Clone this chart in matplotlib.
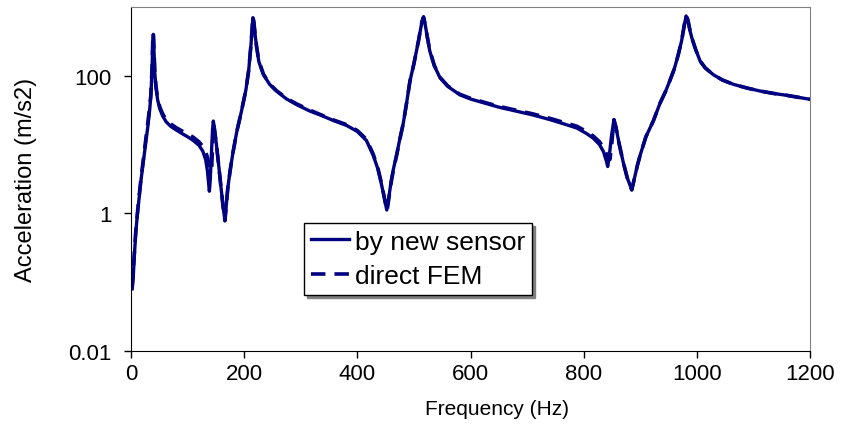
import numpy as np
import matplotlib
matplotlib.use("Agg")
import matplotlib.pyplot as plt

plt.rcParams['font.family'] = ['Liberation Sans', 'DejaVu Sans']

# frequency response (Hz, m/s2)
sensor_f = [2, 4, 6, 9, 12, 15, 18, 21, 24, 27, 30, 33, 35, 37, 38.5, 39.5, 40.5, 42, 44, 47,
            51, 56, 62, 70, 80, 90, 100, 110, 120, 127, 132, 135, 137, 138.5, 140, 142, 144,
            145.5, 147, 151, 155, 159, 163, 166, 168, 171, 175, 180, 187, 195, 203, 208, 212,
            215.5, 217, 219, 222, 226, 234, 245, 257, 275, 293, 315, 334, 360, 381, 400, 416,
            428, 436, 442, 447, 452, 456, 460, 464, 470, 475, 481, 487, 493, 500, 508, 514,
            517, 520, 524, 528, 536, 546, 560, 581, 600, 623, 650, 682, 710, 741, 765, 788,
            805, 817, 828, 835, 840, 842.5, 845, 849, 853.5, 857, 863, 870, 877, 885, 890,
            895, 900, 910, 923, 935, 945, 953, 960, 967, 973, 978, 981, 984, 988, 991, 998,
            1006, 1015, 1029, 1045, 1065, 1090, 1112, 1135, 1159, 1180, 1200]
sensor_a = [0.08, 0.12, 0.25, 0.6, 1.1, 1.9, 3.2, 5, 8, 12.5, 19, 32, 50, 110, 300, 400, 250,
            110, 70, 45, 33, 26, 21.5, 18.5, 16.3, 14.5, 13, 11.5, 9.8, 8, 6, 4.2, 2.8, 2.1,
            3, 7, 16, 22, 18, 10, 5, 2.4, 1.2, 0.8, 1.2, 2.3, 4.1, 7.5, 15.5, 30, 62, 120,
            280, 700, 600, 420, 260, 160, 104, 75, 60, 46, 38, 31, 27, 22, 19, 15.5, 11.5, 7,
            4.5, 2.8, 1.8, 1.12, 1.8, 3, 4.5, 7.5, 12, 20, 40, 84, 150, 320, 600, 700, 550,
            350, 230, 140, 94, 70, 53, 46, 40.5, 35, 30.5, 27, 23, 20, 17.4, 14.5, 12.4, 10,
            7.9, 5.8, 4.8, 6.5, 13, 23, 18, 10, 5.5, 3.3, 2.2, 3.3, 5, 7.1, 13, 22, 40, 60,
            88, 125, 200, 320, 550, 740, 650, 450, 360, 240, 163, 130, 104, 87, 75, 66, 60,
            55.5, 52, 48.5, 45.5]

fem_f = [2, 3, 5, 8, 11, 14, 17, 20, 23, 26, 29, 32, 35, 37, 38.5, 39.5, 40.5, 42, 44, 47,
         51, 56, 62, 70, 80, 90, 100, 110, 120, 128, 134, 138, 140.5, 142.5, 144, 145.5, 147,
         151, 155, 159, 163, 166, 168, 171, 175, 180, 187, 195, 203, 208, 212, 215.5, 217,
         219, 222, 226, 234, 245, 257, 275, 293, 315, 334, 360, 381, 400, 416, 428, 436, 442,
         447, 452.5, 456, 460, 464, 470, 475, 481, 487, 493, 500, 508, 514, 517, 520, 524,
         528, 536, 546, 560, 581, 600, 623, 650, 682, 710, 741, 765, 788, 805, 817, 828, 836,
         842, 846.5, 849.5, 853.5, 857, 863, 870, 877, 885, 890, 895, 900, 910, 923, 935, 945,
         953, 960, 967, 973, 978, 981, 984, 988, 991, 998, 1006, 1015, 1029, 1045, 1065, 1090,
         1112, 1135, 1159, 1180, 1200]
fem_a = [0.08, 0.11, 0.2, 0.5, 0.95, 1.7, 2.9, 4.6, 7.4, 11.5, 18, 30, 52, 120, 330, 420, 260,
         115, 72, 47, 35, 28, 23, 20, 17.6, 15.8, 14.3, 12.8, 11, 9.2, 7, 5.2, 4.1, 4.3, 9,
         21, 18, 10, 5, 2.4, 1.2, 0.78, 1.2, 2.3, 4.1, 7.5, 15.5, 30, 62, 120, 280, 720, 620,
         430, 265, 165, 106, 76, 61, 47, 39, 32, 27.5, 22.5, 19.5, 16, 12, 7.3, 4.7, 2.9,
         1.8, 1.08, 1.7, 2.9, 4.4, 7.3, 11.8, 20, 40, 84, 150, 320, 610, 720, 560, 355, 235,
         142, 95, 71, 54, 47, 41.5, 36, 31.5, 28, 24, 21, 18.5, 15.5, 13.3, 11, 8.8, 6.8, 6.1,
         10, 23, 18, 10, 5.5, 3.3, 2.2, 3.3, 5, 7.1, 13, 22, 40, 60, 88, 125, 200, 320, 560,
         750, 660, 455, 360, 240, 163, 130, 104, 87, 75, 66, 60, 55.5, 52, 48.5, 45.5]

x_ticks = [0, 200, 400, 600, 800, 1000, 1200]
y_ticks = [0.01, 1, 100]
y_labels = ['0.01', '1', '100']

NAVY = '#000080'

fig = plt.figure(figsize=(8.42, 4.39), dpi=100)
ax = fig.add_axes([131/842, 1-352/439, 679/842, 344/439])

ax.plot(sensor_f, sensor_a, color=NAVY, lw=2.4, label='by new sensor')
ax.plot(fem_f, fem_a, color=NAVY, lw=2.6, ls=(0, (4, 2.5)), label='direct FEM')

ax.set_yscale('log')
ax.set_xlim(0, 1200)
ax.set_ylim(0.01, 1000)
ax.set_xticks(x_ticks)
ax.set_yticks(y_ticks)
ax.set_yticklabels(y_labels)
ax.yaxis.set_minor_locator(matplotlib.ticker.NullLocator())
ax.tick_params(direction='out', length=5, width=1, labelsize=16, color='black')
ax.tick_params(axis='y', pad=9)

for s in ('top', 'right'):
    ax.spines[s].set_color('#808080')
for s in ('left', 'bottom'):
    ax.spines[s].set_color('black')

ax.set_xlabel('Frequency (Hz)', fontsize=15)
ax.set_ylabel('Acceleration (m/s2)', fontsize=17)
ax.xaxis.set_label_coords((497-131)/679, (352-400)/344)
ax.yaxis.set_label_coords((37-131)/679, 0.5)

leg = ax.legend(loc='upper left', bbox_to_anchor=((304-131)/679, (352-224)/344),
                fontsize=19, frameon=True, fancybox=False, edgecolor='black',
                handlelength=1.45, handletextpad=0.23, labelspacing=0.4, borderpad=0.25,
                borderaxespad=0, shadow={'color': '#808080', 'alpha': 1})
leg.get_frame().set_linewidth(1.0)

fig.savefig('out.png', dpi=100, facecolor='white')
